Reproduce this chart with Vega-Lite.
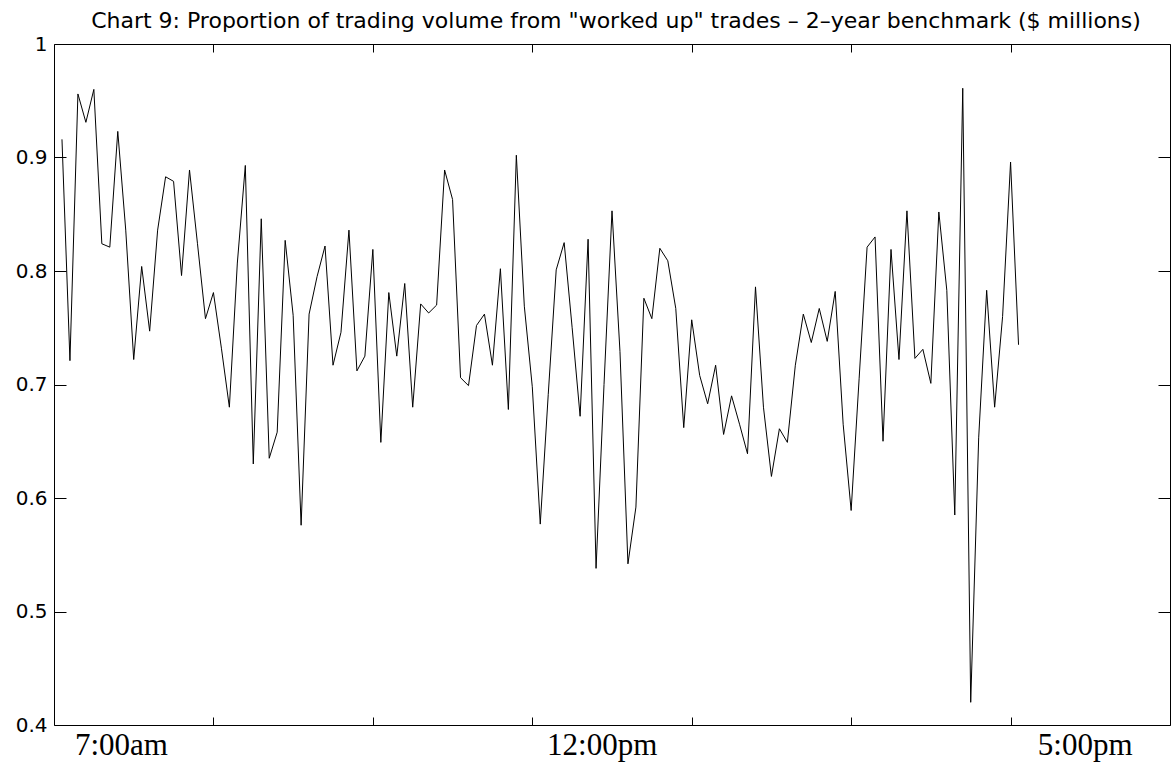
{
  "$schema": "https://vega.github.io/schema/vega-lite/v6.json",
  "width": 1116,
  "height": 681,
  "autosize": "none",
  "padding": {"left": 54, "top": 44, "right": 4, "bottom": 42},
  "background": "white",
  "config": {
    "view": {"stroke": null},
    "axis": {"grid": false, "domainColor": "black", "tickColor": "black", "domainWidth": 1, "tickWidth": 1, "labelColor": "black"}
  },
  "title": {
    "text": "Chart 9: Proportion of trading volume from \"worked up\" trades – 2–year benchmark ($ millions)",
    "font": "DejaVu Sans",
    "fontSize": 22,
    "fontWeight": "normal",
    "color": "black",
    "anchor": "middle",
    "baseline": "alphabetic",
    "offset": 14,
    "dx": 4,
    "dy": 30
  },
  "data": {
    "values": [
      {"i": 1, "v": 0.916}, {"i": 2, "v": 0.721}, {"i": 3, "v": 0.956}, {"i": 4, "v": 0.931}, {"i": 5, "v": 0.960},
      {"i": 6, "v": 0.824}, {"i": 7, "v": 0.821}, {"i": 8, "v": 0.923}, {"i": 9, "v": 0.836}, {"i": 10, "v": 0.722},
      {"i": 11, "v": 0.804}, {"i": 12, "v": 0.747}, {"i": 13, "v": 0.836}, {"i": 14, "v": 0.883}, {"i": 15, "v": 0.879},
      {"i": 16, "v": 0.796}, {"i": 17, "v": 0.889}, {"i": 18, "v": 0.824}, {"i": 19, "v": 0.758}, {"i": 20, "v": 0.781},
      {"i": 21, "v": 0.732}, {"i": 22, "v": 0.680}, {"i": 23, "v": 0.807}, {"i": 24, "v": 0.893}, {"i": 25, "v": 0.630},
      {"i": 26, "v": 0.846}, {"i": 27, "v": 0.635}, {"i": 28, "v": 0.658}, {"i": 29, "v": 0.827}, {"i": 30, "v": 0.761},
      {"i": 31, "v": 0.576}, {"i": 32, "v": 0.762}, {"i": 33, "v": 0.795}, {"i": 34, "v": 0.822}, {"i": 35, "v": 0.717},
      {"i": 36, "v": 0.746}, {"i": 37, "v": 0.836}, {"i": 38, "v": 0.712}, {"i": 39, "v": 0.725}, {"i": 40, "v": 0.819},
      {"i": 41, "v": 0.649}, {"i": 42, "v": 0.781}, {"i": 43, "v": 0.725}, {"i": 44, "v": 0.789}, {"i": 45, "v": 0.680},
      {"i": 46, "v": 0.771}, {"i": 47, "v": 0.763}, {"i": 48, "v": 0.770}, {"i": 49, "v": 0.889}, {"i": 50, "v": 0.863},
      {"i": 51, "v": 0.706}, {"i": 52, "v": 0.699}, {"i": 53, "v": 0.752}, {"i": 54, "v": 0.762}, {"i": 55, "v": 0.717},
      {"i": 56, "v": 0.802}, {"i": 57, "v": 0.678}, {"i": 58, "v": 0.902}, {"i": 59, "v": 0.769}, {"i": 60, "v": 0.698},
      {"i": 61, "v": 0.577}, {"i": 62, "v": 0.691}, {"i": 63, "v": 0.801}, {"i": 64, "v": 0.825}, {"i": 65, "v": 0.750},
      {"i": 66, "v": 0.672}, {"i": 67, "v": 0.828}, {"i": 68, "v": 0.538}, {"i": 69, "v": 0.700}, {"i": 70, "v": 0.853},
      {"i": 71, "v": 0.729}, {"i": 72, "v": 0.542}, {"i": 73, "v": 0.592}, {"i": 74, "v": 0.776}, {"i": 75, "v": 0.758},
      {"i": 76, "v": 0.820}, {"i": 77, "v": 0.809}, {"i": 78, "v": 0.767}, {"i": 79, "v": 0.662}, {"i": 80, "v": 0.757},
      {"i": 81, "v": 0.708}, {"i": 82, "v": 0.683}, {"i": 83, "v": 0.717}, {"i": 84, "v": 0.656}, {"i": 85, "v": 0.690},
      {"i": 86, "v": 0.665}, {"i": 87, "v": 0.639}, {"i": 88, "v": 0.786}, {"i": 89, "v": 0.680}, {"i": 90, "v": 0.619},
      {"i": 91, "v": 0.661}, {"i": 92, "v": 0.649}, {"i": 93, "v": 0.717}, {"i": 94, "v": 0.762}, {"i": 95, "v": 0.737},
      {"i": 96, "v": 0.767}, {"i": 97, "v": 0.738}, {"i": 98, "v": 0.782}, {"i": 99, "v": 0.665}, {"i": 100, "v": 0.589},
      {"i": 101, "v": 0.705}, {"i": 102, "v": 0.821}, {"i": 103, "v": 0.830}, {"i": 104, "v": 0.650}, {"i": 105, "v": 0.819},
      {"i": 106, "v": 0.722}, {"i": 107, "v": 0.853}, {"i": 108, "v": 0.723}, {"i": 109, "v": 0.731}, {"i": 110, "v": 0.701},
      {"i": 111, "v": 0.852}, {"i": 112, "v": 0.783}, {"i": 113, "v": 0.585}, {"i": 114, "v": 0.961}, {"i": 115, "v": 0.420},
      {"i": 116, "v": 0.653}, {"i": 117, "v": 0.783}, {"i": 118, "v": 0.680}, {"i": 119, "v": 0.760}, {"i": 120, "v": 0.896},
      {"i": 121, "v": 0.735}
    ]
  },
  "layer": [
    {
      "mark": {"type": "line", "color": "black", "strokeWidth": 1},
      "encoding": {
        "x": {
          "field": "i", "type": "quantitative",
          "scale": {"domain": [0, 140], "nice": false, "zero": false},
          "axis": {
            "orient": "bottom", "title": null,
            "values": [8.4, 20, 40, 60, 68.7, 80, 100, 120, 129.3],
            "labelExpr": "datum.value == 8.4 ? '7:00am' : datum.value == 68.7 ? '12:00pm' : datum.value == 129.3 ? '5:00pm' : ''",
            "tickSize": -8,
            "tickOpacity": {"condition": {"test": "datum.value % 20 == 0", "value": 1}, "value": 0},
            "labelFont": "Liberation Serif", "labelFontSize": 31,
            "labelBaseline": "top", "labelPadding": 13,
            "labelFlush": false, "labelOverlap": false
          }
        },
        "y": {
          "field": "v", "type": "quantitative",
          "scale": {"domain": [0.4, 1], "nice": false, "zero": false},
          "axis": {
            "orient": "left", "title": null,
            "values": [0.4, 0.5, 0.6, 0.7, 0.8, 0.9, 1.0],
            "format": ".1~f",
            "tickSize": -12,
            "labelFont": "DejaVu Sans", "labelFontSize": 20,
            "labelPadding": 19, "labelBaseline": "middle",
            "labelFlush": false, "labelOverlap": false
          }
        }
      }
    },
    {
      "mark": {"type": "line", "strokeOpacity": 0},
      "encoding": {
        "x": {
          "field": "i", "type": "quantitative",
          "axis": {"orient": "top", "title": null, "labels": false, "values": [20, 40, 60, 80, 100, 120], "tickSize": -8, "minExtent": 0, "maxExtent": 0}
        },
        "y": {
          "field": "v", "type": "quantitative",
          "axis": {"orient": "right", "title": null, "labels": false, "values": [0.4, 0.5, 0.6, 0.7, 0.8, 0.9, 1.0], "tickSize": -12, "minExtent": 0, "maxExtent": 0}
        }
      }
    }
  ],
  "resolve": {"axis": {"x": "independent", "y": "independent"}}
}
